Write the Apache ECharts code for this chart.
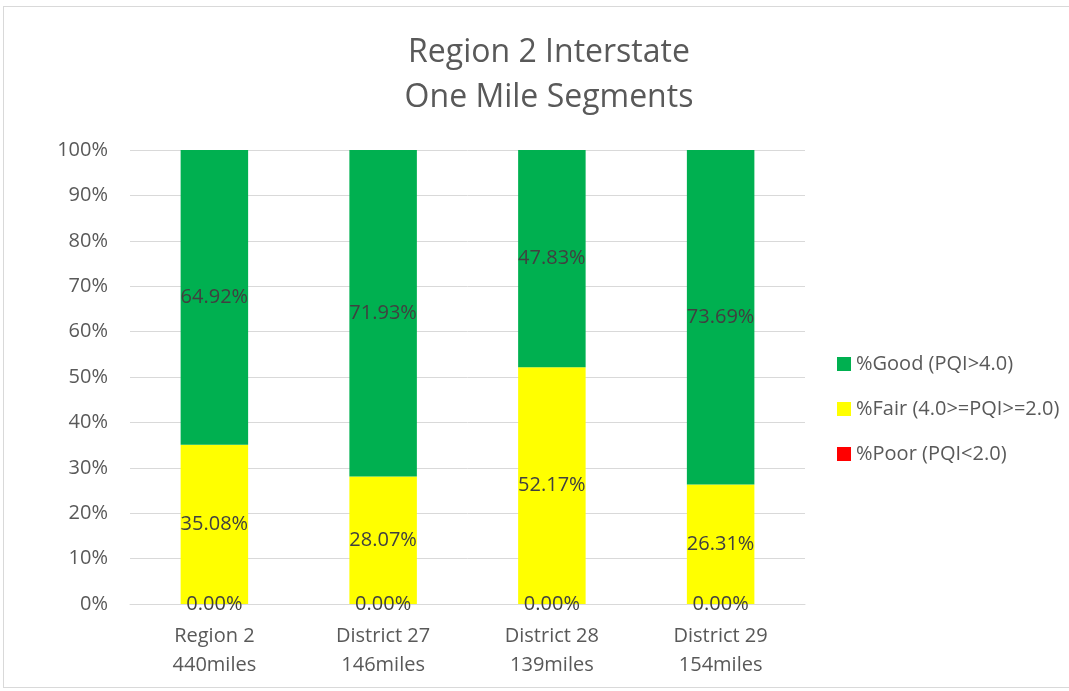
<!DOCTYPE html>
<html>
<head>
<meta charset="utf-8">
<script src="https://cdn.jsdelivr.net/npm/echarts@6/dist/echarts.min.js"></script>
<style>
  html, body { margin: 0; padding: 0; background: #fff; }
  #chart { width: 1069px; height: 691px; }
  #frame { position: absolute; left: 3px; top: 6px; width: 1070px; height: 682px; border: 1px solid #d9d9d9; box-sizing: border-box; pointer-events: none; }
</style>
</head>
<body>
<div id="chart"></div>
<div id="frame"></div>
<script>
const categories = ['Region 2\n440miles', 'District 27\n146miles', 'District 28\n139miles', 'District 29\n154miles']
const goodVals = [64.92, 71.93, 47.83, 73.69]
const fairVals = [35.08, 28.07, 52.17, 26.31]
const poorVals = [0, 0, 0, 0]
const seriesNames = ['%Good (PQI>4.0)', '%Fair (4.0>=PQI>=2.0)', '%Poor (PQI<2.0)']

const font = 'Open Sans'
const chart = echarts.init(document.getElementById('chart'))

// label shown in the middle of each stacked piece
const pieceLabel = {
  show: true,
  position: 'inside',
  color: '#404040',
  fontSize: 20,
  fontFamily: font,
  formatter: (p) => p.value.toFixed(2) + '%',
}

function piece(name, data, color) {
  return {
    name: name,
    type: 'bar',
    stack: 'all',
    barWidth: '40%',
    data: data,
    itemStyle: { color: color },
    label: pieceLabel,
  }
}

chart.setOption({
  backgroundColor: '#ffffff',
  title: {
    text: 'Region 2 Interstate\nOne Mile Segments',
    left: 544,
    top: 25,
    textAlign: 'center',
    textStyle: { fontFamily: font, fontSize: 32, fontWeight: 'normal', color: '#595959', lineHeight: 45 },
  },
  legend: {
    orient: 'vertical',
    left: 832,
    top: 349,
    itemGap: 25,
    itemWidth: 14,
    itemHeight: 14,
    icon: 'rect',
    data: [seriesNames[0], seriesNames[1], seriesNames[2]],
    textStyle: { fontFamily: font, fontSize: 20, color: '#595959' },
  },
  grid: { left: 130, right: 264, top: 150, bottom: 87, containLabel: false },
  xAxis: {
    type: 'category',
    data: categories,
    axisLine: { lineStyle: { color: '#d9d9d9' } },
    axisTick: { show: false },
    axisLabel: { fontFamily: font, fontSize: 20, color: '#595959', lineHeight: 29, margin: 18 },
  },
  yAxis: {
    type: 'value',
    min: 0,
    max: 100,
    interval: 10,
    axisLabel: { formatter: '{value}%', fontFamily: font, fontSize: 20, color: '#595959', margin: 22 },
    splitLine: { lineStyle: { color: '#d9d9d9' } },
    axisLine: { show: false },
    axisTick: { show: false },
  },
  series: [
    piece(seriesNames[2], poorVals, '#ff0000'),
    piece(seriesNames[1], fairVals, '#ffff00'),
    piece(seriesNames[0], goodVals, '#00b050'),
  ],
})
</script>
</body>
</html>
